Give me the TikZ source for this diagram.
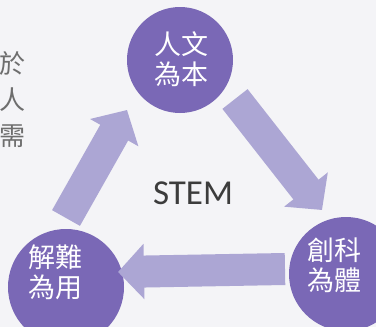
\documentclass[tikz,border=0pt]{standalone}
\usepackage{fontspec}
\setsansfont{Carlito}
\newfontfamily\cjk{Noto Sans CJK TC}
\usetikzlibrary{arrows.meta}

\definecolor{bgcol}{RGB}{244,244,247}
\definecolor{hubcol}{RGB}{122,104,182}
\definecolor{flowcol}{RGB}{172,166,212}
\definecolor{sidecol}{RGB}{110,110,110}
\definecolor{stemcol}{RGB}{60,60,60}

\begin{document}
\begin{tikzpicture}[
    x=1pt, y=-1pt,
    % Common Styles
    hub/.style={
        circle,
        fill=hubcol,
        minimum size=106pt,
        inner sep=0pt
    },
    hub_text/.style={
        font=\cjk\fontsize{27}{30}\selectfont,
        text=white,
        align=center,
        inner sep=0pt
    },
    flow/.style={
        flowcol,
        line width=32pt,
        -{Triangle[width=54pt, length=26pt]}
    },
    side_text/.style={
        font=\cjk\fontsize{26}{36}\selectfont,
        text=sidecol,
        align=center,
        inner sep=0pt
    },
    core_text/.style={
        font=\sffamily\fontsize{35}{38}\selectfont,
        text=stemcol
    }
]

    % ================= BACKGROUND =================
    \fill[bgcol] (0,0) rectangle (376,327);
    \useasboundingbox (0,0) rectangle (376,327);

    % Cut-off text on the left edge
    \node[side_text] (side) at (12,100) {於\\人\\需};

    % ================= HUBS =================
    \node[hub] (ren) at (180,60) {};
    \node[hub, minimum size=114pt] (chuang) at (346,274) {};
    \node[hub, minimum size=116pt] (jie) at (66,287) {};

    % Labels
    \node[hub_text] (renlbl) at (181,59) {人文\\為本};
    \node[hub_text] (chuanglbl) at (335,265) {創科\\為體};
    \node[hub_text] (jielbl) at (56,272) {解難\\為用};

    % Centre
    \node[core_text] (stem) at (193,193) {STEM};

    % ================= ARROWS =================
    % Arrow ends (gaps to the hubs)
    \coordinate (a1s) at (66,218);
    \coordinate (a1e) at (127,110);
    \coordinate (a2s) at (235,99);
    \coordinate (a2e) at (322,210);
    \coordinate (a3s) at (285,269);
    \coordinate (a3e) at (118,272);

    \draw[flow] (a1s) -- (a1e);
    \draw[flow] (a2s) -- (a2e);
    \draw[flow] (a3s) -- (a3e);

\end{tikzpicture}
\end{document}
